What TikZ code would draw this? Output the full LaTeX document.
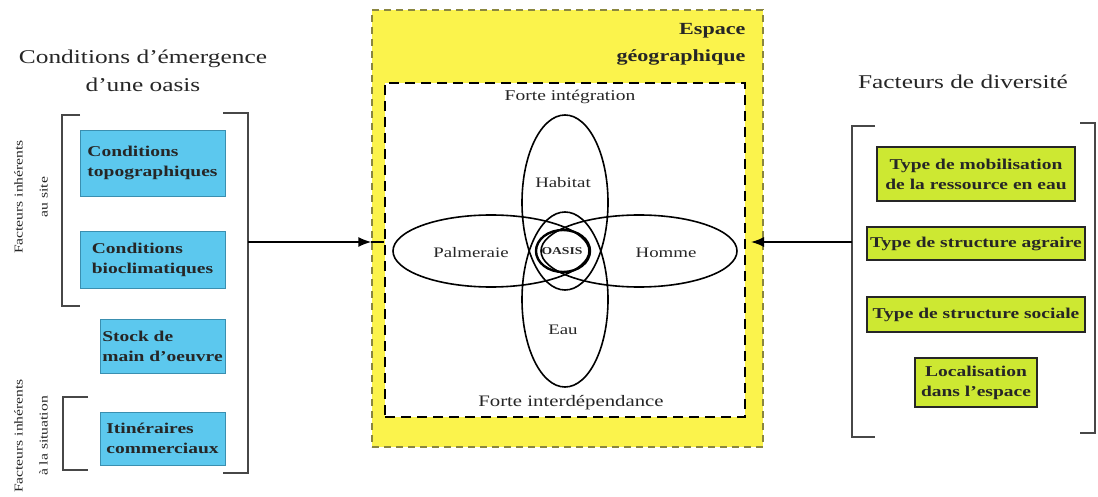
\documentclass[tikz,border=0pt]{standalone}
\usepackage{fontspec}
\setmainfont{Liberation Serif}[FakeStretch=1.3]
\usetikzlibrary{arrows.meta}
\definecolor{cyanbox}{HTML}{5CC8EE}
\definecolor{cyanedge}{HTML}{3A8FB0}
\definecolor{greenbox}{HTML}{CDE832}
\definecolor{yel}{HTML}{FBF34C}
\definecolor{yeledge}{HTML}{8A8640}
\definecolor{ink}{HTML}{262626}
\tikzset{
  cbox/.style={draw=cyanedge, line width=0.8pt, fill=cyanbox, align=left, inner sep=0pt,
    font=\fontsize{15}{20}\selectfont\bfseries, text=ink},
  gbox/.style={draw=ink, line width=1.6pt, fill=greenbox, align=center, inner sep=0pt,
    font=\fontsize{15}{20}\selectfont\bfseries, text=ink},
  brk/.style={draw=ink!85, line width=2.2pt},
  title/.style={align=center, font=\fontsize{19.5}{28}\selectfont, text=ink},
  side/.style={rotate=90, align=center, font=\fontsize{12}{25}\selectfont, text=ink},
  ell/.style={draw=black, line width=1.6pt},
  lab/.style={font=\fontsize{14.5}{16}\selectfont, text=ink},
  arr/.style={draw=black, line width=1.5pt, -{Latex[length=13pt,width=10pt]}},
}
\begin{document}
\begin{tikzpicture}[x=1pt,y=-1pt]
\useasboundingbox (0,0) rectangle (1098,497);

% ---------- centre ----------
\node[draw=yeledge, fill=yel, line width=1.4pt, dash pattern=on 7pt off 5pt,
  minimum width=391pt, minimum height=437pt, inner sep=0pt] (esp) at (567.5,228.5) {};
\node[draw=black, fill=white, line width=2.6pt, dash pattern=on 10pt off 6pt,
  minimum width=360pt, minimum height=334pt, inner sep=0pt] (inner) at (565,250) {};
\node[anchor=east, align=right, font=\fontsize{17}{27}\selectfont\bfseries, text=ink]
  (esptxt) at (749,44) {Espace\\géographique};
\node[font=\fontsize{15}{18}\selectfont, text=ink] (fi) at (570,97) {Forte intégration};
\node[font=\fontsize{16}{18}\selectfont, text=ink] (fd) at (571,403) {Forte interdépendance};

\draw[ell] (565,202.5) ellipse [x radius=43pt, y radius=87.5pt];
\draw[ell] (565,299.5) ellipse [x radius=43pt, y radius=87.5pt];
\draw[ell] (491,251) ellipse [x radius=98pt, y radius=36pt];
\draw[ell] (639,251) ellipse [x radius=98pt, y radius=36pt];
\draw[ell, line width=2.4pt] (563,251) ellipse [x radius=27pt, y radius=21pt];

\node[lab] (hab) at (563,183) {Habitat};
\node[lab] (pal) at (471,253) {Palmeraie};
\node[lab] (hom) at (666,253) {Homme};
\node[lab] (eau) at (563,330) {Eau};
\node[font=\fontsize{10.5}{12}\selectfont\bfseries, text=ink] (oas) at (562,251) {OASIS};

% ---------- left group ----------
\node[title] (lt) at (143,71) {Conditions d'émergence\\d'une oasis};
\node[cbox, minimum width=145pt, minimum height=66pt] (b1) at (152.5,163) {Conditions\\topographiques};
\node[cbox, minimum width=145pt, minimum height=57pt] (b2) at (152.5,259.5) {Conditions\\bioclimatiques};
\node[cbox, minimum width=125pt, minimum height=54pt] (b3) at (162.5,346) {Stock de\\main d'oeuvre};
\node[cbox, minimum width=125pt, minimum height=53pt] (b4) at (162.5,438.5) {Itinéraires\\commerciaux};

\node[side] (s1) at (31,197) {Facteurs inhérents\\au site};
\node[side] (s2) at (31,436) {Facteurs inhérents\\à la situation};

\draw[brk] (80,115) -- (62,115) -- (62,306) -- (80,306);
\draw[brk] (88,397) -- (63,397) -- (63,470) -- (88,470);
\draw[brk] (223,113) -- (248,113) -- (248,473) -- (223,473);
\coordinate (lout) at (248,242);
\draw[arr] (lout) -- (lout -| esp.west);
\draw[line width=1.5pt] (lout -| esp.west) -- (lout -| inner.west);

% ---------- right group ----------
\node[title] (rt) at (963,82) {Facteurs de diversité};
\node[gbox, minimum width=198pt, minimum height=54pt] (g1) at (976,174) {Type de mobilisation\\de la ressource en eau};
\node[gbox, minimum width=218pt, minimum height=33pt] (g2) at (976,243.5) {Type de structure agraire};
\node[gbox, minimum width=218pt, minimum height=35pt] (g3) at (976,314.5) {Type de structure sociale};
\node[gbox, minimum width=122pt, minimum height=49pt] (g4) at (976,382.5) {Localisation\\dans l'espace};

\draw[brk] (875,126) -- (852,126) -- (852,437) -- (875,437);
\draw[brk] (1080,123) -- (1095,123) -- (1095,433) -- (1080,433);
\coordinate (rout) at (852,242);
\coordinate (rtip) at (751,242);
\draw[arr] (rout) -- (rtip);
\end{tikzpicture}
\end{document}
